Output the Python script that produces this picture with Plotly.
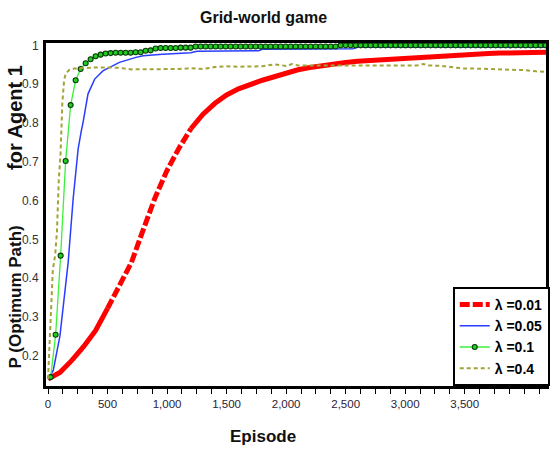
import plotly.graph_objects as go

# ---------------- data ----------------
red_ep = [0, 100, 200, 300, 400, 500, 600, 700, 800, 900, 1000, 1100, 1200, 1300, 1400,
          1500, 1600, 1700, 1800, 1900, 2000, 2100, 2200, 2300, 2400, 2500, 2600, 2700,
          2800, 2900, 3000, 3100, 3200, 3300, 3400, 3500, 3600, 3700, 3800, 3900, 4000,
          4100, 4200]
red_val = [0.14, 0.157, 0.188, 0.224, 0.265, 0.322, 0.378, 0.44, 0.525, 0.608, 0.678,
           0.735, 0.785, 0.822, 0.85, 0.872, 0.888, 0.900, 0.910, 0.919, 0.929, 0.937,
           0.943, 0.948, 0.952, 0.956, 0.959, 0.961, 0.963, 0.965, 0.967, 0.970, 0.972,
           0.974, 0.976, 0.977, 0.978, 0.979, 0.980, 0.981, 0.981, 0.982, 0.982]

blue_ep = [0, 44, 100, 142, 169, 211, 253, 280, 294, 336, 392, 461, 531, 600, 739, 800,
           961, 1200, 1250, 1770, 1800, 2560, 2600, 4200]
blue_val = [0.14, 0.162, 0.251, 0.364, 0.44, 0.604, 0.733, 0.78, 0.801, 0.875, 0.913,
            0.934, 0.946, 0.956, 0.969, 0.973, 0.977, 0.981, 0.985, 0.986, 0.990, 0.991,
            0.995, 0.995]

green_ep = list(range(22, 4200, 42))
green_val = [0.145, 0.254, 0.458, 0.702, 0.846, 0.910, 0.939, 0.954, 0.964, 0.972,
             0.976, 0.979, 0.980, 0.981, 0.981, 0.981, 0.981, 0.982, 0.982, 0.986,
             0.987, 0.992, 0.993, 0.993, 0.993, 0.993, 0.994, 0.994, 0.994, 0.997,
             0.997, 0.997, 0.997, 0.997, 0.997, 0.997, 0.997, 0.997, 0.997, 0.997,
             0.997, 0.997, 0.997, 0.997, 0.997, 0.997, 0.997, 0.997, 0.997, 0.997,
             0.997, 0.997, 0.997, 0.997, 0.997, 0.997, 0.997, 0.997, 1.0, 1.0,
             1.0, 1.0, 1.0, 1.0, 1.0, 1.0, 1.0, 1.0, 1.0, 1.0,
             1.0, 1.0, 1.0, 1.0, 1.0, 1.0, 1.0, 1.0, 1.0, 1.0,
             1.0, 1.0, 1.0, 1.0, 1.0, 1.0, 1.0, 1.0, 1.0, 1.0,
             1.0, 1.0, 1.0, 1.0, 1.0, 1.0, 1.0, 1.0, 1.0, 1.0]

olive_ep = [0, 20, 40, 60, 75, 90, 105, 120, 135, 150, 180, 220, 300, 400, 500, 600, 700,
            800, 900, 1000, 1100, 1200, 1300, 1400, 1500, 1600, 1700, 1800, 1900, 2000,
            2050, 2100, 2200, 2300, 2400, 2500, 2600, 2700, 2800, 2900, 3000, 3100, 3150,
            3200, 3300, 3400, 3500, 3600, 3700, 3800, 3900, 4000, 4100, 4200]
olive_val = [0.14, 0.30, 0.42, 0.46, 0.52, 0.65, 0.72, 0.85, 0.91, 0.928, 0.937, 0.940,
             0.942, 0.943, 0.943, 0.942, 0.938, 0.938, 0.939, 0.938, 0.939, 0.941, 0.939,
             0.944, 0.946, 0.945, 0.945, 0.946, 0.951, 0.947, 0.952, 0.948, 0.948, 0.948,
             0.948, 0.948, 0.948, 0.948, 0.948, 0.948, 0.948, 0.948, 0.952, 0.948, 0.947,
             0.944, 0.940, 0.940, 0.939, 0.937, 0.937, 0.936, 0.933, 0.931]

labels = ["\u03bb =0.01", "\u03bb =0.05", "\u03bb =0.1", "\u03bb =0.4"]
x_ticks = [0, 500, 1000, 1500, 2000, 2500, 3000, 3500]
y_ticks = [0.2, 0.3, 0.4, 0.5, 0.6, 0.7, 0.8, 0.9, 1.0]
y_ticktext = ["0.2", "0.3", "0.4", "0.5", "0.6", "0.7", "0.8", "0.9", "1"]

# ---------------- figure ----------------
fig = go.Figure()

RED = "#ff0000"
i_a = red_ep.index(500)
i_b = red_ep.index(1200)
fig.add_trace(go.Scatter(x=red_ep[:i_a + 1], y=red_val[:i_a + 1], mode="lines",
                         line=dict(color=RED, width=5), showlegend=False,
                         hoverinfo="skip"))
fig.add_trace(go.Scatter(x=red_ep[i_b:], y=red_val[i_b:], mode="lines",
                         line=dict(color=RED, width=5), showlegend=False,
                         hoverinfo="skip"))
fig.add_trace(go.Scatter(x=red_ep[i_a:i_b + 1], y=red_val[i_a:i_b + 1], mode="lines",
                         line=dict(color=RED, width=5, dash="10px,3px"),
                         name=labels[0], legendrank=1))

fig.add_trace(go.Scatter(x=blue_ep, y=blue_val, mode="lines",
                         line=dict(color="#2a3cff", width=1.5),
                         name=labels[1], legendrank=2))

fig.add_trace(go.Scatter(x=green_ep, y=green_val, mode="lines+markers",
                         line=dict(color="#3cf03c", width=1.3),
                         marker=dict(size=5, color="#1fcc1f",
                                     line=dict(color="#0a3a0a", width=1.1)),
                         name=labels[2], legendrank=3))

fig.add_trace(go.Scatter(x=olive_ep, y=olive_val, mode="lines",
                         line=dict(color="#a3a33a", width=2, dash="4px,3px"),
                         name=labels[3], legendrank=4))

W, H = 550, 453
L, T, B = 46, 43, 67
plot_w = W - L

fig.update_layout(
    width=W, height=H,
    margin=dict(l=L, r=0, t=T, b=B, pad=0),
    paper_bgcolor="white", plot_bgcolor="white",
    font=dict(family="Liberation Sans, Arial, sans-serif", color="#222"),
    showlegend=True,
    legend=dict(x=(456 - L) / plot_w, y=0, xanchor="left", yanchor="bottom",
                bgcolor="white", bordercolor="black", borderwidth=2,
                font=dict(size=14, color="black", weight="bold"),
                tracegroupgap=0, itemwidth=30),
    xaxis=dict(range=[-17, 4183], showgrid=False, zeroline=False,
               showline=True, linecolor="black", linewidth=3, mirror=True,
               ticks="outside", ticklen=5, tickwidth=1, tickcolor="black",
               tickvals=x_ticks, tickformat=",d",
               tickfont=dict(size=11.5, color="#2a2238"),
               minor=dict(dtick=125, tick0=0, ticks="outside", ticklen=5,
                          tickwidth=1, tickcolor="black", showgrid=False)),
    yaxis=dict(range=[0.122, 1.006], showgrid=False, zeroline=False,
               showline=True, linecolor="black", linewidth=3, mirror=True,
               ticks="", tickvals=y_ticks, ticktext=y_ticktext,
               tickfont=dict(size=12, color="#333"), ticklabelstandoff=2),
    annotations=[
        dict(text="<b>Grid-world game</b>", xref="paper", yref="paper",
             x=(265 - L) / plot_w, y=1, yshift=26, xanchor="center", yanchor="middle",
             showarrow=False, font=dict(size=16, color="#111")),
        dict(text="<b>Episode</b>", xref="paper", yref="paper",
             x=(265 - L) / plot_w, y=0, yshift=-50, xanchor="center", yanchor="middle",
             showarrow=False, font=dict(size=17, color="#111")),
        dict(text="<b>P (Optimum Path)</b>", xref="paper", yref="paper",
             x=0, xshift=-31, y=(386 - 297.5) / (386 - T), xanchor="center",
             yanchor="middle", textangle=-90, showarrow=False,
             font=dict(size=17, color="#111")),
        dict(text="<b>for Agent 1</b>", xref="paper", yref="paper",
             x=0, xshift=-31, y=(386 - 118) / (386 - T), xanchor="center",
             yanchor="middle", textangle=-90, showarrow=False,
             font=dict(size=20, color="#111")),
    ],
)

fig.write_html("out.html")
